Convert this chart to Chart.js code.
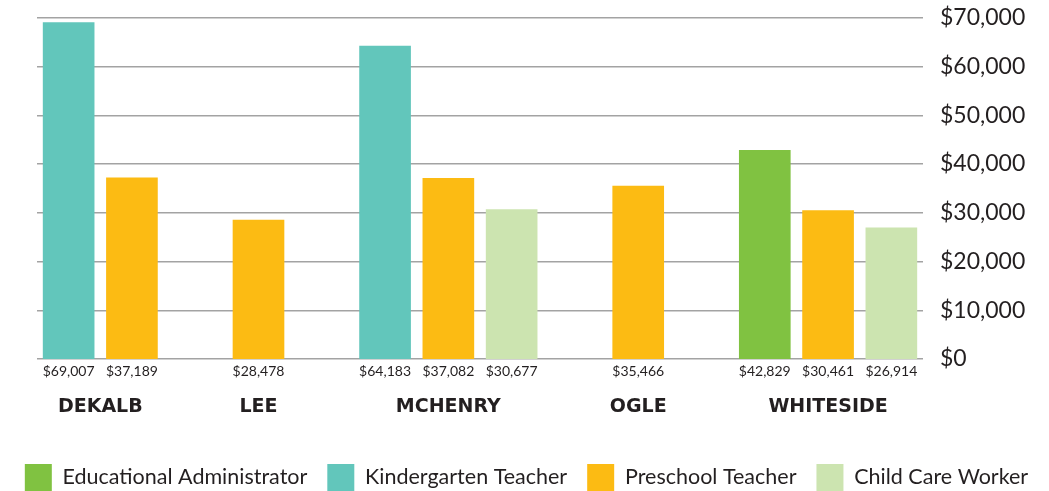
<!DOCTYPE html>
<html>
<head>
<meta charset="utf-8">
<script src="https://cdn.jsdelivr.net/npm/chart.js@4.4.1/dist/chart.umd.min.js"></script>
<style>
  html, body { margin: 0; padding: 0; background: #fff; }
  #wrap { width: 1049px; height: 491px; }
</style>
</head>
<body>
<div id="wrap"><canvas id="payChart"></canvas></div>
<script>
// counties and median pay per occupation (null = not reported)
var counties = ['DEKALB', 'LEE', 'MCHENRY', 'OGLE', 'WHITESIDE'];
var seriesNames = ['Educational Administrator', 'Kindergarten Teacher', 'Preschool Teacher', 'Child Care Worker'];
var adminPay = [null, null, null, null, 42829];
var kinderPay = [69007, null, 64183, null, null];
var preschoolPay = [37189, 28478, 37082, 35466, 30461];
var childCarePay = [null, null, 30677, null, 26914];
var yTicks = [0, 10000, 20000, 30000, 40000, 50000, 60000, 70000];

var colors = ['#80c241', '#62c6bb', '#fcbb13', '#cce4b0'];
var ink = '#231f20';

function money(v) {
    return '$' + v.toLocaleString('en-US');
}

// one slot per reported value, with an empty slot between counties
var allPay = [adminPay, kinderPay, preschoolPay, childCarePay];
var slotLabels = [];
var slotData = allPay.map(function() { return []; });
var groups = [];
counties.forEach(function(name, ci) {
    if (ci > 0) {
        slotLabels.push('');
        slotData.forEach(function(d) { d.push(null); });
    }
    var first = slotLabels.length;
    allPay.forEach(function(vals, si) {
        if (vals[ci] == null) return;
        slotLabels.push(money(vals[ci]));
        slotData.forEach(function(d, k) { d.push(k === si ? vals[ci] : null); });
    });
    groups.push({ name: name, first: first, last: slotLabels.length - 1 });
});

var countyLabels = {
    id: 'countyLabels',
    afterDraw: function(chart) {
        var x = chart.scales.x;
        var ctx = chart.ctx;
        ctx.save();
        ctx.font = 'bold 19px "DejaVu Sans"';
        ctx.fillStyle = ink;
        ctx.textAlign = 'center';
        ctx.textBaseline = 'middle';
        groups.forEach(function(g) {
            var cx = (x.getPixelForValue(g.first) + x.getPixelForValue(g.last)) / 2;
            ctx.fillText(g.name, cx, 407);
        });
        ctx.restore();
    }
};

var ctx = document.getElementById('payChart');
var myChart = new Chart(ctx, {
    type: 'bar',
    data: {
        labels: slotLabels,
        datasets: seriesNames.map(function(n, i) {
            return {
                label: n,
                data: slotData[i],
                backgroundColor: colors[i],
                borderWidth: 0,
                barThickness: 51,
                grouped: false
            };
        })
    },
    plugins: [countyLabels],
    options: {
        responsive: true,
        maintainAspectRatio: false,
        animation: false,
        layout: { padding: { left: 4, top: 4, right: 0, bottom: -10 } },
        plugins: {
            tooltip: { enabled: false },
            legend: {
                position: 'bottom',
                labels: {
                    boxWidth: 27,
                    boxHeight: 27,
                    padding: 20,
                    color: ink,
                    font: { family: 'Lato', size: 21.5 }
                }
            }
        },
        scales: {
            x: {
                grid: { display: false, drawTicks: false },
                border: { display: false },
                ticks: {
                    color: ink,
                    font: { family: 'Lato', size: 14 },
                    padding: 4,
                    maxRotation: 0,
                    autoSkip: false
                },
                afterFit: function(s) { s.height = 85; }
            },
            // empty left margin so the legend can use the full width
            pad: {
                type: 'linear',
                position: 'left',
                grid: { display: false, drawTicks: false },
                border: { display: false },
                ticks: { display: false },
                afterFit: function(s) { s.width = 33; }
            },
            y: {
                position: 'right',
                min: 0,
                max: 70000,
                afterBuildTicks: function(s) {
                    s.ticks = yTicks.map(function(v) { return { value: v }; });
                },
                grid: { color: '#a3a3a3', lineWidth: 1.5, tickLength: 13, tickColor: 'rgba(0,0,0,0)' },
                border: { display: false },
                ticks: {
                    color: ink,
                    padding: 4,
                    font: { family: 'Lato', size: 23 },
                    callback: function(v) { return money(v); }
                },
                afterFit: function(s) { s.width = 126; }
            }
        }
    }
});
</script>
</body>
</html>
